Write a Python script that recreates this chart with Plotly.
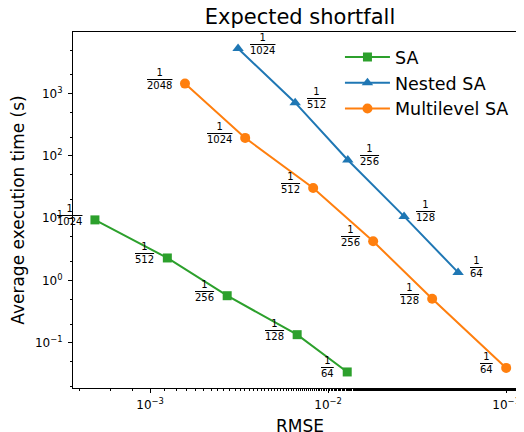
import math
import plotly.graph_objects as go

# Data
sa_rmse = [4.9e-4, 1.25e-3, 2.71e-3, 6.7e-3, 1.28e-2]
sa_time = [9.4, 2.3, 0.57, 0.135, 0.034]
sa_labels = ["1024", "512", "256", "128", "64"]

nested_rmse = [3.12e-3, 6.53e-3, 1.29e-2, 2.67e-2, 5.37e-2]
nested_time = [5300, 716, 86, 10.7, 1.35]
nested_labels = ["1024", "512", "256", "128", "64"]

ml_rmse = [1.57e-3, 3.42e-3, 8.24e-3, 1.79e-2, 3.84e-2, 0.1]
ml_time = [1450, 195, 30.5, 4.26, 0.51, 0.0395]
ml_labels = ["2048", "1024", "512", "256", "128", "64"]

x_tickvals = [1e-3, 1e-2, 1e-1]
x_ticktext = ["10<sup>\u22123</sup>", "10<sup>\u22122</sup>", "10<sup>\u22121</sup>"]
y_tickvals = [1e-1, 1, 10, 100, 1000]
y_ticktext = ["10<sup>\u22121</sup>", "10<sup>0</sup>", "10<sup>1</sup>", "10<sup>2</sup>", "10<sup>3</sup>"]

GREEN = "#2ca02c"
BLUE = "#1f77b4"
ORANGE = "#ff7f0e"
FONT = "DejaVu Sans"

fig = go.Figure()
fig.add_trace(go.Scatter(x=sa_rmse, y=sa_time, mode="lines+markers", name="SA",
                         legendgroup="a",
                         line=dict(color=GREEN, width=2),
                         marker=dict(symbol="square", size=9, color=GREEN)))
fig.add_trace(go.Scatter(x=nested_rmse, y=nested_time, mode="lines+markers", name="Nested SA",
                         legendgroup="b",
                         line=dict(color=BLUE, width=2),
                         marker=dict(symbol="triangle-up", size=10, color=BLUE)))
fig.add_trace(go.Scatter(x=ml_rmse, y=ml_time, mode="lines+markers", name="Multilevel SA",
                         legendgroup="c",
                         line=dict(color=ORANGE, width=2),
                         marker=dict(symbol="circle", size=10, color=ORANGE)))


def frac(d):
    return "1<br><span style='text-decoration:overline'>" + d + "</span>"


annotations = []
for xs, ys, labs, side in [(sa_rmse, sa_time, sa_labels, "left"),
                           (nested_rmse, nested_time, nested_labels, "right"),
                           (ml_rmse, ml_time, ml_labels, "left")]:
    for x, y, lab in zip(xs, ys, labs):
        annotations.append(dict(
            x=math.log10(x), y=math.log10(y), xref="x", yref="y",
            text=frac(lab), showarrow=False,
            xanchor="right" if side == "left" else "left",
            yanchor="middle",
            xshift=-11 if side == "left" else 10, yshift=5,
            font=dict(family=FONT, size=10, color="black"),
        ))

fig.update_layout(
    width=524, height=432,
    margin=dict(l=65, r=5, t=24, b=52),
    paper_bgcolor="white", plot_bgcolor="white",
    font=dict(family=FONT, color="black"),
    title=dict(text="Expected shortfall", x=0.5, xref="paper", xanchor="center",
               y=1 - 9 / 432, yanchor="middle", font=dict(size=21, family=FONT)),
    showlegend=True,
    legend=dict(x=0.588, y=0.980, xanchor="left", yanchor="top",
                bgcolor="rgba(0,0,0,0)", font=dict(size=17.5, family=FONT),
                tracegroupgap=0, itemwidth=45),
    annotations=annotations,
)

fig.update_xaxes(
    type="log", range=[-3.433, -0.883],
    tickmode="array", tickvals=x_tickvals, ticktext=x_ticktext,
    showgrid=False, zeroline=False, automargin=False,
    showline=True, linecolor="black", linewidth=1, mirror=True,
    ticks="outside", ticklen=4, tickwidth=1, tickcolor="black",
    tickfont=dict(size=12, family=FONT), ticklabelstandoff=2,
    minor=dict(ticks="outside", ticklen=2, tickwidth=0.8, tickcolor="black", showgrid=False),
    title=dict(text="RMSE", font=dict(size=17, family=FONT), standoff=8),
)
fig.update_yaxes(
    type="log", range=[-1.726, 3.99],
    tickmode="array", tickvals=y_tickvals, ticktext=y_ticktext,
    showgrid=False, zeroline=False, automargin=False,
    showline=True, linecolor="black", linewidth=1, mirror=True,
    ticks="outside", ticklen=4, tickwidth=1, tickcolor="black",
    tickfont=dict(size=12, family=FONT), ticklabelstandoff=3,
    minor=dict(ticks="outside", ticklen=2, tickwidth=0.8, tickcolor="black", showgrid=False),
    title=dict(text="Average execution time (s)", font=dict(size=17, family=FONT), standoff=8),
)

fig.write_html("out.html")
